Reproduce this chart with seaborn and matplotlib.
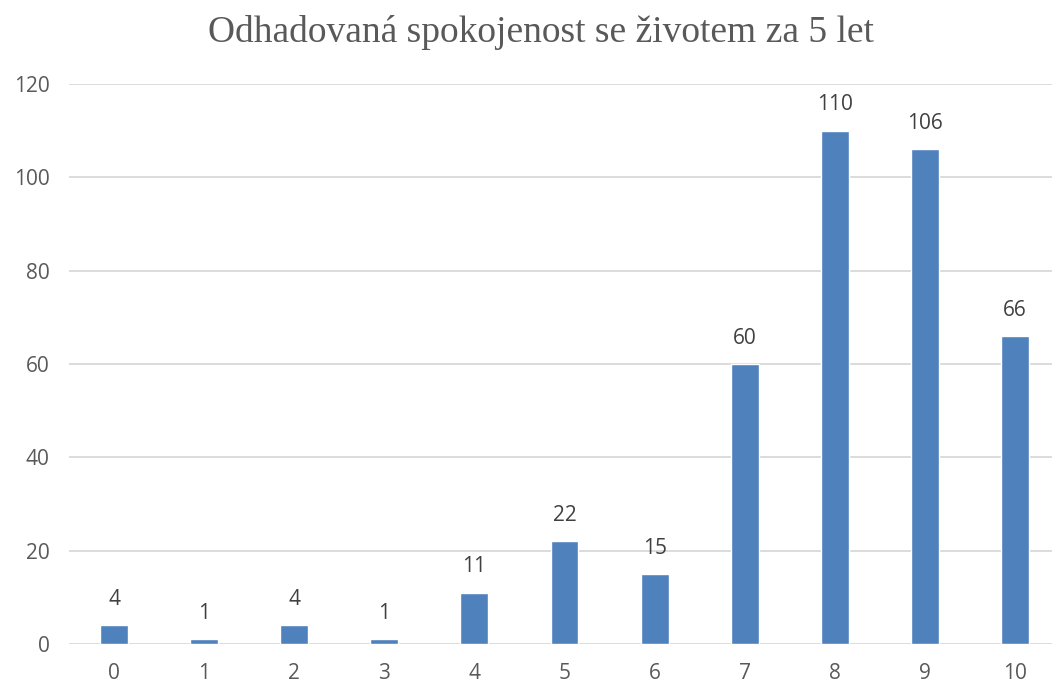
import matplotlib.pyplot as plt
import seaborn as sns
import pandas as pd

scores = ["0", "1", "2", "3", "4", "5", "6", "7", "8", "9", "10"]
counts = [4, 1, 4, 1, 11, 22, 15, 60, 110, 106, 66]

df = pd.DataFrame({"score": scores, "count": counts})

sns.set_style("white")
plt.rcParams['font.family'] = ['Open Sans', 'DejaVu Sans']

fig = plt.figure(figsize=(10.52, 6.84), dpi=100)
ax = fig.add_axes([69 / 1052, 1 - 644 / 684, (1052 - 69) / 1052, (644 - 84) / 684])

sns.barplot(x="score", y="count", data=df, color="#4f81bd", width=0.31,
            saturation=1, ax=ax, zorder=3)

ax.set_ylim(0, 120)
ax.set_xlim(-0.5, 10.5 - 8 / 90.1)
ax.set_yticks(range(0, 121, 20))
ax.yaxis.grid(True, color="#d9d9d9", linewidth=1.3, zorder=0)
ax.set_axisbelow(True)
for s in ax.spines.values():
    s.set_visible(False)
ax.tick_params(axis="both", length=0, labelsize=15, labelcolor="#595959")
ax.tick_params(axis="x", pad=14)
ax.tick_params(axis="y", pad=14)
ax.set_xlabel("")
ax.set_ylabel("")

ax.bar_label(ax.containers[0], padding=11, fontsize=15, color="#404040")

fig.text(540.5 / 1052, 1 - 33 / 684, "Odhadovaná spokojenost se životem za 5 let",
         ha="center", va="center", fontsize=27, color="#595959",
         family=["Liberation Serif", "DejaVu Serif"])

fig.savefig("out.png", dpi=100)
